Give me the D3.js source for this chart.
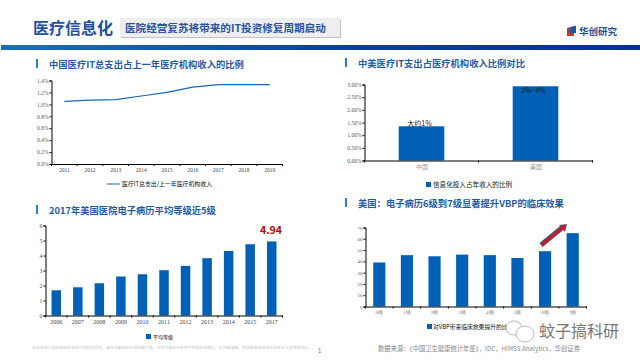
<!DOCTYPE html>
<html>
<head>
<meta charset="utf-8">
<script src="https://cdn.jsdelivr.net/npm/d3@7"></script>
<style>
  html, body { margin: 0; padding: 0; background: #fff; }
  svg { display: block; }
  text { font-family: "Noto Sans CJK SC", "Noto Sans", sans-serif; }
  .num text, .num { font-family: "Liberation Serif", serif; }
</style>
</head>
<body>
<div id="container"></div>
<script>
/* DATA */
const itYears = ["2011", "2012", "2013", "2014", "2015", "2016", "2017", "2018", "2019"];
const itShare = [1.05, 1.07, 1.08, 1.14, 1.2, 1.29, 1.33, 1.33, 1.33];
const itTicks = [0, 0.2, 0.4, 0.6, 0.8, 1.0, 1.2, 1.4];

const countries = ["中国", "美国"];
const countryShare = [1.35, 2.93];
const countryLabels = ["大约1%", "2%~4%"];
const countryTicks = [0, 0.5, 1, 1.5, 2, 2.5, 3];

const emrYears = ["2006", "2007", "2008", "2009", "2010", "2011", "2012", "2013", "2014", "2015", "2017"];
const emrLevel = [1.68, 1.88, 2.15, 2.6, 2.75, 3.02, 3.3, 3.82, 4.3, 4.75, 4.94];
const emrTicks = [0, 1, 2, 3, 4, 5, 6];

const vbpGrades = ["0级", "1级", "2级", "3级", "4级", "5级", "6级", "7级"];
const vbpScore = [39, 45.5, 44.5, 46, 45.5, 43, 49, 65];
const vbpTicks = [0, 10, 20, 30, 40, 50, 60, 70];

const blue = "#0060b6";
const titleBlue = "#1f5aa6";

const svg = d3.select("#container").append("svg")
  .attr("width", 640)
  .attr("height", 360);

const defs = svg.append("defs");
const grad = defs.append("linearGradient").attr("id", "band");
grad.append("stop").attr("offset", "0%").attr("stop-color", "#1b70b3");
grad.append("stop").attr("offset", "55%").attr("stop-color", "#0c3f98");
grad.append("stop").attr("offset", "100%").attr("stop-color", "#09308f");

/* HEADER */
svg.append("text").attr("x", 33).attr("y", 33.5)
  .attr("font-size", 16).attr("font-weight", 700).attr("fill", "#1f4f9e")
  .text("医疗信息化");
svg.append("rect").attr("x", 121).attr("y", 20).attr("width", 220).attr("height", 18).attr("fill", "#c4c4c4");
svg.append("rect").attr("x", 120).attr("y", 18).attr("width", 220).attr("height", 19).attr("fill", "#eeeeee");
svg.append("text").attr("x", 125).attr("y", 31.5)
  .attr("font-size", 10.6).attr("font-weight", 700).attr("fill", "#2a549f")
  .text("医院经营复苏将带来的IT投资修复周期启动");
svg.append("rect").attr("x", 1).attr("y", 45).attr("width", 639).attr("height", 5).attr("fill", "url(#band)");

// logo
svg.append("path").attr("d", "M567 28 L574 26 L574 36 L567 36 Z").attr("fill", "#c8332f");
svg.append("path").attr("d", "M570 28 L576 25.5 L576 33 L570 33 Z").attr("fill", "#1b5aa0");
svg.append("text").attr("x", 579).attr("y", 35)
  .attr("font-size", 9.5).attr("font-weight", 700).attr("fill", "#1f4f8e")
  .text("华创研究");

/* helpers */
function panelTitle(x, y, label) {
  svg.append("rect").attr("x", x).attr("y", y - 9).attr("width", 2).attr("height", 9).attr("fill", "#2f7fc4");
  svg.append("text").attr("x", x + 13).attr("y", y)
    .attr("font-size", 9.3).attr("font-weight", 700).attr("fill", titleBlue)
    .text(label);
}

function drawAxes(x, y, ticks, fmt, xSize, xColor, ySize) {
  const [left] = x.range();
  const [bottom] = y.range();
  const yAxis = d3.axisLeft(y).tickValues(ticks).tickFormat(fmt).tickSize(2).tickPadding(1);
  const gy = svg.append("g").attr("class", "num")
    .attr("transform", `translate(${left},0)`).call(yAxis);
  gy.selectAll("text").attr("font-size", ySize || 5.5).attr("fill", "#555");
  gy.selectAll("line,path").attr("stroke", "#000");

  const xAxis = d3.axisBottom(x).tickSize(0).tickPadding(4);
  const gx = svg.append("g").attr("class", "num")
    .attr("transform", `translate(0,${bottom})`).call(xAxis);
  gx.selectAll("text").attr("font-size", xSize).attr("fill", xColor);
  gx.select("path").attr("stroke", "#000");

  // tick marks sit between the categories
  const step = x.step();
  const edges = x.domain().map(d => x(d) + x.bandwidth() / 2 - step / 2).concat([x.range()[1]]);
  gx.selectAll("line.edge").data(edges).join("line")
    .attr("class", "edge")
    .attr("x1", d => d).attr("x2", d => d)
    .attr("y1", 0).attr("y2", 2)
    .attr("stroke", "#000");
}

function legendText(x, y, label, size) {
  svg.append("text").attr("x", x).attr("y", y)
    .attr("font-size", size || 6).attr("fill", "#111")
    .text(label);
}

/* PANEL 1 */
panelTitle(36, 68, "中国医疗IT总支出占上一年医疗机构收入的比例");
const x1 = d3.scaleBand().domain(itYears).range([51.5, 282.5]);
const y1 = d3.scaleLinear().domain([0, 1.4]).range([164, 80.5]);
drawAxes(x1, y1, itTicks, d => d.toFixed(1) + "%", 5.5, "#444");
const line1 = d3.line()
  .x((d, i) => x1(itYears[i]) + x1.bandwidth() / 2)
  .y(d => y1(d));
svg.append("path").datum(itShare)
  .attr("d", line1)
  .attr("fill", "none").attr("stroke", "#1469b8").attr("stroke-width", 1.2);
svg.append("line").attr("x1", 107).attr("x2", 120).attr("y1", 184).attr("y2", 184)
  .attr("stroke", "#1469b8").attr("stroke-width", 1);
legendText(122, 186, "医疗IT总支出/上一年医疗机构收入", 5.9);

/* PANEL 2 */
panelTitle(345, 67, "中美医疗IT支出占医疗机构收入比例对比");
const x2 = d3.scaleBand().domain(countries).range([364.5, 592.5]).paddingInner(0.6).paddingOuter(0.3);
const y2 = d3.scaleLinear().domain([0, 3]).range([160.5, 84.5]);
svg.selectAll("rect.bar2").data(countryShare).join("rect")
  .attr("class", "bar2")
  .attr("x", (d, i) => x2(countries[i]))
  .attr("width", x2.bandwidth())
  .attr("y", d => y2(d))
  .attr("height", d => y2(0) - y2(d))
  .attr("fill", blue);
const gy2 = svg.append("g").attr("class", "num")
  .attr("transform", "translate(364.5,0)")
  .call(d3.axisLeft(y2).tickValues(countryTicks).tickFormat(d => d.toFixed(2) + "%").tickSize(2).tickPadding(1));
gy2.selectAll("text").attr("font-size", 5.5).attr("fill", "#555");
gy2.selectAll("line,path").attr("stroke", "#000");
const x2Axis = d3.scalePoint().domain(countries).range([364.5, 592.5]).padding(0.5);
const gx2 = svg.append("g")
  .attr("transform", "translate(0,160.5)")
  .call(d3.axisBottom(x2Axis).tickSize(0).tickPadding(4));
gx2.selectAll("text").attr("font-size", 6).attr("fill", "#999");
gx2.select("path").attr("stroke", "#000");
gx2.selectAll("line.edge").data([364.5, 478.5, 592.5]).join("line")
  .attr("class", "edge").attr("x1", d => d).attr("x2", d => d)
  .attr("y1", 0).attr("y2", 2).attr("stroke", "#000");
svg.selectAll("text.lab2").data(countryLabels).join("text")
  .attr("class", "lab2")
  .attr("x", (d, i) => x2(countries[i]) + x2.bandwidth() / 2 - 2)
  .attr("y", (d, i) => y2(countryShare[i]) + (i ? 7 : 0))
  .attr("text-anchor", "middle")
  .attr("font-size", 7).attr("fill", "#222")
  .text(d => d);
svg.append("rect").attr("x", 426).attr("y", 182).attr("width", 5).attr("height", 5).attr("fill", blue);
legendText(433, 187, "信息化投入占年收入的比例", 6.6);

/* PANEL 3 */
panelTitle(36, 214, "2017年美国医院电子病历平均等级近5级");
const x3 = d3.scaleBand().domain(emrYears).range([45.5, 282.5]).paddingInner(0.56).paddingOuter(0.28);
const y3 = d3.scaleLinear().domain([0, 6]).range([315.5, 225.5]);
svg.selectAll("rect.bar3").data(emrLevel).join("rect")
  .attr("class", "bar3")
  .attr("x", (d, i) => x3(emrYears[i]))
  .attr("width", x3.bandwidth())
  .attr("y", d => y3(d))
  .attr("height", d => y3(0) - y3(d))
  .attr("fill", blue);
drawAxes(x3, y3, emrTicks, d => d, 6, "#444", 6);
svg.append("text").attr("x", 282).attr("y", 234)
  .attr("text-anchor", "end")
  .attr("font-size", 10.5).attr("font-weight", 700).attr("fill", "#c00000")
  .attr("font-family", "Liberation Sans")
  .text("4.94");
svg.append("rect").attr("x", 146).attr("y", 334).attr("width", 5).attr("height", 5).attr("fill", blue);
legendText(153, 339, "平均等级", 5);

/* PANEL 4 */
panelTitle(345, 207, "美国：电子病历6级到7级显著提升VBP的临床效果");
const x4 = d3.scaleBand().domain(vbpGrades).range([365.5, 586.5]).paddingInner(0.56).paddingOuter(0.28);
const y4 = d3.scaleLinear().domain([0, 70]).range([306.5, 227.5]);
svg.selectAll("rect.bar4").data(vbpScore).join("rect")
  .attr("class", "bar4")
  .attr("x", (d, i) => x4(vbpGrades[i]))
  .attr("width", x4.bandwidth())
  .attr("y", d => y4(d))
  .attr("height", d => y4(0) - y4(d))
  .attr("fill", blue);
drawAxes(x4, y4, vbpTicks, d => d, 5, "#777", 5);

// arrow
svg.append("path").attr("d", "M541 245 L563 227").attr("stroke", "#44587a").attr("stroke-width", 5).attr("fill", "none");
svg.append("path").attr("d", "M559 225 L567 224 L565 232 Z").attr("fill", "#44587a");
svg.append("path").attr("d", "M542 245 L562 228").attr("stroke", "#e0101a").attr("stroke-width", 2.4).attr("fill", "none");
svg.append("path").attr("d", "M560 226 L565.5 225.5 L564.5 231 Z").attr("fill", "#e0101a");

svg.append("rect").attr("x", 427).attr("y", 324).attr("width", 5).attr("height", 5).attr("fill", blue);
legendText(433, 329, "对VBP带来临床效果提升的比例", 5.8);

/* WATERMARK + FOOTER */
const wm = svg.append("g").attr("fill", "#fff").attr("stroke", "#aaa").attr("stroke-width", 0.8);
wm.append("ellipse").attr("cx", 514).attr("cy", 328).attr("rx", 8).attr("ry", 7);
wm.append("ellipse").attr("cx", 525).attr("cy", 334).attr("rx", 9).attr("ry", 8);
svg.append("text").attr("x", 539).attr("y", 337)
  .attr("font-size", 16).attr("fill", "#777")
  .text("蚊子搞科研");
svg.append("text").attr("x", 378).attr("y", 351)
  .attr("font-size", 6.3).attr("fill", "#888")
  .text("数据来源：《中国卫生健康统计年鉴》，IDC，HIMSS Analytics，华创证券");
svg.append("text").attr("x", 32).attr("y", 349)
  .attr("font-size", 3.9).attr("fill", "#c4c4c4")
  .text("此报告由华创证券有限责任公司制作提供，未经书面授权不得转载引用，本页内容仅供参考不构成投资建议，投资需谨慎，相关数据来源详见报告正文及声明部分。");
svg.append("text").attr("x", 318).attr("y", 353)
  .attr("font-size", 6).attr("fill", "#777")
  .text("1");
</script>
</body>
</html>
